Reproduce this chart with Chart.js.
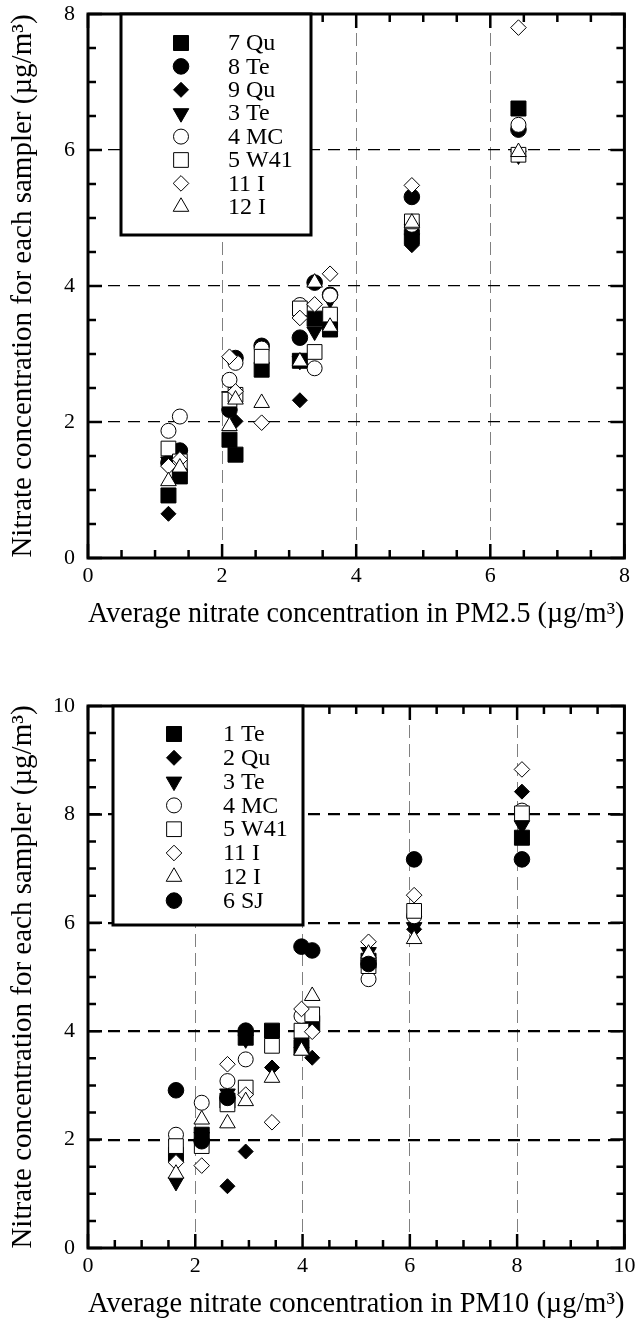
<!DOCTYPE html>
<html>
<head>
<meta charset="utf-8">
<script src="https://cdn.jsdelivr.net/npm/chart.js@4.4.1/dist/chart.umd.min.js"></script>
<style>
  html, body { margin: 0; padding: 0; background: #fff; }
  canvas { display: block; }
</style>
</head>
<body>
<canvas id="pm25" width="636" height="650" style="width:636px;height:650px"></canvas>
<canvas id="pm10" width="636" height="675" style="width:636px;height:675px"></canvas>
<script>
// =====================================================================
// Sampler comparison: nitrate per sampler vs. average nitrate
//   top    : PM2.5 samplers
//   bottom : PM10 samplers
// Values (one x per sampling day).
// =====================================================================

// ---- PM2.5 panel ----------------------------------------------------
const pm25X = [1.20, 1.37, 2.11, 2.20, 2.59, 3.16, 3.38, 3.61, 4.83, 6.42];
const pm25Labels = ["7 Qu", "8 Te", "9 Qu", "3 Te", "4 MC", "5 W41", "11 I", "12 I"];
const pm25Qu7  = [0.92, 1.20, 1.74, 1.52, 2.77, 2.90, 3.52, 3.36, 4.72, 6.61];
const pm25Te8  = [1.40, 1.58, 2.18, 2.94, 3.12, 3.24, 4.05, 3.87, 5.31, 6.30];
const pm25Qu9  = [0.65, 1.45, null, 2.01, null, 2.32, null, null, 4.60, null];
const pm25Te3  = [1.42, 1.52, 2.38, null, null, 2.90, 3.33, 3.80, 4.70, 5.92];
const pm25MC4  = [1.87, 2.08, 2.62, 2.87, 3.08, 3.72, 2.79, 3.86, 4.90, 6.37];
const pm25W41  = [1.61, 1.42, 2.33, 2.40, 2.96, 3.67, 3.03, 3.58, 4.95, 5.93];
const pm25I11  = [1.35, 1.45, 2.96, 2.45, 1.99, 3.53, 3.73, 4.18, 5.48, 7.80];
const pm25I12  = [1.13, 1.33, 1.94, 2.33, 2.28, 2.89, 4.05, 3.40, 4.93, 5.97];
const pm25Ticks = [0, 2, 4, 6, 8];

// ---- PM10 panel -----------------------------------------------------
const pm10X = [1.64, 2.12, 2.60, 2.94, 3.43, 3.98, 4.18, 5.23, 6.08, 8.09];
const pm10Labels = ["1 Te", "2 Qu", "3 Te", "4 MC", "5 W41", "11 I", "12 I", "6 SJ"];
const pm10Te1  = [1.72, 2.09, 2.72, 3.88, 4.01, 3.70, 4.13, 5.30, null, 7.57];
const pm10Qu2  = [null, null, 1.14, 1.78, 3.33, 3.70, 3.51, 5.30, 5.88, 8.42];
const pm10Te3  = [1.22, 2.05, 2.85, 3.85, null, 3.78, 4.20, 5.46, 5.92, 7.80];
const pm10MC4  = [2.09, 2.68, 3.08, 3.48, null, 4.28, null, 4.96, 6.12, 8.07];
const pm10W41  = [1.88, 1.88, 2.65, 2.96, 3.73, 4.01, 4.31, 5.20, 6.22, 8.02];
const pm10I11  = [1.58, 1.52, 3.39, 2.83, 2.32, 4.41, 3.99, 5.65, 6.51, 8.83];
const pm10I12  = [1.37, 2.37, 2.30, 2.71, 3.14, 3.64, 4.65, 5.43, 5.70, null];
const pm10SJ6  = [2.91, 1.97, 2.77, 4.01, null, 5.56, 5.49, 5.24, 7.17, 7.17];
const pm10Ticks = [0, 2, 4, 6, 8, 10];

// ---- marker look (filled = black, open = white with black edge) ----
const SERIF = "'Liberation Serif', 'Times New Roman', serif";
const MARKERS = {
  fSquare:  { style: "rect",     radius: 10.6, rotation: 0,   fill: "#000" },
  fCircle:  { style: "circle",   radius: 7.8,  rotation: 0,   fill: "#000" },
  fDiamond: { style: "rectRot",  radius: 7.5,  rotation: 0,   fill: "#000" },
  fDown:    { style: "triangle", radius: 9,    rotation: 180, fill: "#000" },
  oCircle:  { style: "circle",   radius: 7.5,  rotation: 0,   fill: "#fff" },
  oSquare:  { style: "rect",     radius: 10.4, rotation: 0,   fill: "#fff" },
  oDiamond: { style: "rectRot",  radius: 7.8,  rotation: 0,   fill: "#fff" },
  oUp:      { style: "triangle", radius: 9,    rotation: 0,   fill: "#fff" },
};

/** one scatter dataset; null y = no point that day */
function makeDataset(label, xs, ys, markerKey, index, count) {
  const m = MARKERS[markerKey];
  const pts = [];
  xs.forEach((x, i) => { if (ys[i] !== null) pts.push({ x: x, y: ys[i] }); });
  return {
    label: label,
    data: pts,
    marker: markerKey,
    pointStyle: m.style,
    pointRadius: m.radius,
    pointRotation: m.rotation,
    pointBackgroundColor: m.fill,
    pointBorderColor: "#000",
    pointBorderWidth: 1,
    showLine: false,
    order: count - index, // later series on top, like the original plot
  };
}

// frame, inward ticks (major every 2, minor every 0.5) and the boxed legend
function panelPlugin(p) {
  return {
    id: "panel",
    beforeDatasetsDraw(chart) {
      const { ctx, chartArea: a, scales } = chart;
      ctx.save();
      ctx.strokeStyle = "#000";
      ctx.lineWidth = 2.5;
      ctx.beginPath();
      for (let v = 0; v <= p.max + 1e-9; v += 0.5) {
        const len = v % 2 === 0 ? 14 : 8;
        const px = scales.x.getPixelForValue(v);
        ctx.moveTo(px, a.bottom); ctx.lineTo(px, a.bottom - len);
        ctx.moveTo(px, a.top);    ctx.lineTo(px, a.top + len);
        const py = scales.y.getPixelForValue(v);
        ctx.moveTo(a.left, py);  ctx.lineTo(a.left + len, py);
        ctx.moveTo(a.right, py); ctx.lineTo(a.right - len, py);
      }
      ctx.stroke();
      ctx.lineWidth = 3;
      ctx.strokeRect(a.left, a.top, a.right - a.left, a.bottom - a.top);
      ctx.restore();
    },
    afterDatasetsDraw(chart) {
      const { ctx, chartArea: a } = chart;
      const L = p.legend;
      ctx.save();
      ctx.fillStyle = "#fff";
      ctx.fillRect(L.left, a.top, L.right - L.left, L.bottom - a.top);
      ctx.lineWidth = 3;
      ctx.strokeStyle = "#000";
      ctx.strokeRect(L.left, a.top, L.right - L.left, L.bottom - a.top);
      ctx.font = "24px " + SERIF;
      ctx.textBaseline = "middle";
      ctx.textAlign = "left";
      chart.data.datasets.forEach((ds, i) => {
        const m = MARKERS[ds.marker];
        const y = L.firstRow + i * L.rowGap;
        ctx.fillStyle = m.fill;
        ctx.strokeStyle = "#000";
        ctx.lineWidth = 1;
        Chart.helpers.drawPoint(ctx, { pointStyle: m.style, radius: m.radius, rotation: m.rotation, borderWidth: 1 }, L.markerX, y);
        ctx.fillStyle = "#000";
        ctx.fillText(ds.label, L.textX, y + 1);
      });
      ctx.restore();
    },
  };
}

function makeAxis(axis, max, title, cfg) {
  const edgeless = (c) => (c.tick && (c.tick.value === 0 || c.tick.value === max)) ? "rgba(0,0,0,0)" : cfg.gridColor;
  return {
    type: "linear",
    min: 0,
    max: max,
    afterBuildTicks(scale) { scale.ticks = cfg.ticks.map((v) => ({ value: v })); },
    ticks: { padding: cfg.tickPad, color: "#000", font: { family: SERIF, size: 22 }, maxRotation: 0, autoSkip: false },
    grid: { drawTicks: false, color: edgeless, lineWidth: cfg.gridWidth },
    border: { display: false, dash: cfg.dash },
    title: { display: true, text: title, color: "#000", font: { family: SERIF, size: 29 }, padding: cfg.titlePad },
    afterFit(scale) {
      if (axis === "x") { scale.height = cfg.size; scale.paddingLeft = 0; scale.paddingRight = 0; }
      else { scale.width = cfg.size; scale.paddingTop = 0; scale.paddingBottom = 0; }
    },
  };
}

function renderPanel(canvas, opts) {
  const n = opts.series.length;
  const datasets = opts.series.map((s, i) => makeDataset(s[0], opts.xs, s[1], s[2], i, n));
  return new Chart(canvas, {
    type: "scatter",
    data: { datasets: datasets },
    options: {
      responsive: false,
      animation: false,
      events: [],
      layout: { padding: opts.padding },
      plugins: { legend: { display: false }, tooltip: { enabled: false } },
      scales: {
        x: makeAxis("x", opts.max, opts.xTitle, {
          ticks: opts.ticks, tickPad: 5, gridColor: "#808080", gridWidth: 1, dash: [13, 6],
          titlePad: { top: 0, bottom: opts.xTitlePad }, size: opts.xSize,
        }),
        y: makeAxis("y", opts.max, "Nitrate concentration for each sampler (\u00b5g/m\u00b3)", {
          ticks: opts.ticks, tickPad: 13, gridColor: "#000", gridWidth: opts.hGridWidth, dash: [12, 8],
          titlePad: { top: 6, bottom: 0 }, size: 88,
        }),
      },
    },
    plugins: [panelPlugin({ max: opts.max, legend: opts.legend })],
  });
}

renderPanel(document.getElementById("pm25"), {
  xs: pm25X,
  max: 8,
  ticks: pm25Ticks,
  series: [
    [pm25Labels[0], pm25Qu7, "fSquare"],
    [pm25Labels[1], pm25Te8, "fCircle"],
    [pm25Labels[2], pm25Qu9, "fDiamond"],
    [pm25Labels[3], pm25Te3, "fDown"],
    [pm25Labels[4], pm25MC4, "oCircle"],
    [pm25Labels[5], pm25W41, "oSquare"],
    [pm25Labels[6], pm25I11, "oDiamond"],
    [pm25Labels[7], pm25I12, "oUp"],
  ],
  xTitle: "Average nitrate concentration in PM2.5 (\u00b5g/m\u00b3)",
  xTitlePad: 18,
  xSize: 92,
  hGridWidth: 1.3,
  padding: { left: 0, right: 8, top: 14, bottom: 0 },
  legend: { left: 121, right: 311, bottom: 235, markerX: 181, textX: 228, firstRow: 43, rowGap: 23.4 },
});

renderPanel(document.getElementById("pm10"), {
  xs: pm10X,
  max: 10,
  ticks: pm10Ticks,
  series: [
    [pm10Labels[0], pm10Te1, "fSquare"],
    [pm10Labels[1], pm10Qu2, "fDiamond"],
    [pm10Labels[2], pm10Te3, "fDown"],
    [pm10Labels[3], pm10MC4, "oCircle"],
    [pm10Labels[4], pm10W41, "oSquare"],
    [pm10Labels[5], pm10I11, "oDiamond"],
    [pm10Labels[6], pm10I12, "oUp"],
    [pm10Labels[7], pm10SJ6, "fCircle"],
  ],
  xTitle: "Average nitrate concentration in PM10 (\u00b5g/m\u00b3)",
  xTitlePad: 3,
  xSize: 77,
  hGridWidth: 2.2,
  padding: { left: 0, right: 7, top: 56, bottom: 0 },
  legend: { left: 113, right: 303, bottom: 275, markerX: 174, textX: 223, firstRow: 84, rowGap: 23.8 },
});
</script>
</body>
</html>
